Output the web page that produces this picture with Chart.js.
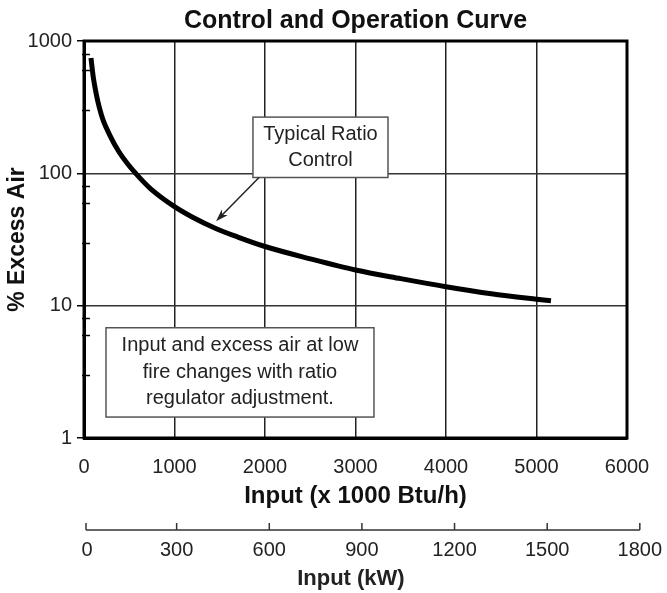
<!DOCTYPE html>
<html lang="en">
<head>
    <meta charset="UTF-8" />
    <title>Control and Operation Curve</title>
    <script src="https://cdn.jsdelivr.net/npm/chart.js"></script>
    <style>
        body { margin: 0; background: #fff; }
        #chart-container { width: 667px; height: 593px; }
    </style>
</head>
<body>
    <div id="chart-container">
        <canvas id="curveChart"></canvas>
    </div>

    <script>
        // curve: input (x 1000 Btu/h) vs % excess air
        const inputBtu = [77, 103, 133, 169, 213, 287, 379, 490, 619, 740, 1000, 1200, 1450, 1700, 2000, 2500, 3000, 3500, 4000, 4500, 5000, 5160];
        const excessAir = [743, 530, 405, 315, 250, 193, 148, 116, 92, 76, 56, 46.6, 38.5, 33, 28, 22.6, 18.6, 16.0, 13.9, 12.3, 11.2, 10.9];

        const yMajorTicks = [1, 10, 100, 1000];
        const kwTicks = [0, 300, 600, 900, 1200, 1500, 1800];
        const btuPerKw = 3.412;

        const FONT = "'Liberation Sans', Arial, Helvetica, sans-serif";
        const TEXT = '#222';

        // notes on the plot, placed in data units
        const notes = {
            ratio: { x0: 1867, x1: 3359, yTop: 266, yBottom: 93, lines: ['Typical Ratio', 'Control'] },
            lowFire: { x0: 243, x1: 3204, yTop: 6.81, yBottom: 1.44, lines: ['Input and excess air at low', 'fire changes with ratio', 'regulator adjustment.'] },
            arrow: { fromX: 1934, fromY: 93, toX: 1459, toY: 43.5 }
        };

        function drawNote(ctx, xs, ys, note) {
            const left = xs.getPixelForValue(note.x0);
            const right = xs.getPixelForValue(note.x1);
            const top = ys.getPixelForValue(note.yTop);
            const bottom = ys.getPixelForValue(note.yBottom);
            ctx.fillStyle = '#fff';
            ctx.fillRect(left, top, right - left, bottom - top);
            ctx.strokeStyle = '#555';
            ctx.lineWidth = 1.5;
            ctx.strokeRect(left, top, right - left, bottom - top);
            ctx.fillStyle = TEXT;
            ctx.font = '20px ' + FONT;
            ctx.textAlign = 'center';
            ctx.textBaseline = 'middle';
            const lh = 26.5;
            const cx = (left + right) / 2;
            const cy = (top + bottom) / 2 - (note.lines.length - 1) * lh / 2;
            note.lines.forEach((t, i) => ctx.fillText(t, cx, cy + i * lh));
        }

        const overlay = {
            id: 'overlay',
            afterDatasetsDraw(chart) {
                const { ctx, scales: { x, y } } = chart;
                ctx.save();
                drawNote(ctx, x, y, notes.ratio);
                drawNote(ctx, x, y, notes.lowFire);

                const a = notes.arrow;
                const x1 = x.getPixelForValue(a.fromX), y1 = y.getPixelForValue(a.fromY);
                const x2 = x.getPixelForValue(a.toX), y2 = y.getPixelForValue(a.toY);
                const ang = Math.atan2(y2 - y1, x2 - x1);
                ctx.strokeStyle = '#222';
                ctx.lineWidth = 1.5;
                ctx.beginPath();
                ctx.moveTo(x1, y1);
                ctx.lineTo(x2 - 8 * Math.cos(ang), y2 - 8 * Math.sin(ang));
                ctx.stroke();
                ctx.fillStyle = '#222';
                ctx.beginPath();
                ctx.moveTo(x2, y2);
                ctx.lineTo(x2 - 13 * Math.cos(ang - 0.32), y2 - 13 * Math.sin(ang - 0.32));
                ctx.lineTo(x2 - 9 * Math.cos(ang), y2 - 9 * Math.sin(ang));
                ctx.lineTo(x2 - 13 * Math.cos(ang + 0.32), y2 - 13 * Math.sin(ang + 0.32));
                ctx.closePath();
                ctx.fill();
                ctx.restore();
            },
            afterDraw(chart) {
                const { ctx, chartArea: ca, scales: { x, y } } = chart;
                ctx.save();

                // heavy frame round the plot
                ctx.strokeStyle = '#000';
                ctx.lineWidth = 3;
                ctx.strokeRect(ca.left, ca.top, ca.right - ca.left, ca.bottom - ca.top);

                // minor log ticks crossing the left axis
                ctx.lineWidth = 1.5;
                ctx.beginPath();
                y.ticks.forEach(t => {
                    if (yMajorTicks.includes(t.value)) return;
                    const py = Math.round(y.getPixelForValue(t.value)) + 0.5;
                    ctx.moveTo(ca.left - 2, py);
                    ctx.lineTo(ca.left + 6, py);
                });
                ctx.stroke();

                // second scale in kW, placed on the Btu/h scale
                const lineY = ca.bottom + 92;
                const kwLeft = x.getPixelForValue(kwTicks[0] * btuPerKw) + 2;
                const kwRight = x.getPixelForValue(kwTicks[kwTicks.length - 1] * btuPerKw);
                ctx.strokeStyle = '#333';
                ctx.lineWidth = 1.5;
                ctx.beginPath();
                ctx.moveTo(kwLeft, lineY);
                ctx.lineTo(kwRight, lineY);
                kwTicks.forEach((k, i) => {
                    const px = i === 0 ? kwLeft : x.getPixelForValue(k * btuPerKw);
                    ctx.moveTo(px, lineY);
                    ctx.lineTo(px, lineY - 7);
                });
                ctx.stroke();

                ctx.fillStyle = TEXT;
                ctx.font = '20px ' + FONT;
                ctx.textAlign = 'center';
                ctx.textBaseline = 'middle';
                kwTicks.forEach((k, i) => {
                    const px = i === 0 ? kwLeft + 1 : x.getPixelForValue(k * btuPerKw);
                    ctx.fillText(String(k), px, lineY + 20);
                });

                ctx.font = 'bold 22px ' + FONT;
                ctx.fillText('Input (kW)', (kwLeft + kwRight) / 2 - 12, lineY + 49);
                ctx.restore();
            }
        };

        new Chart(document.getElementById('curveChart'), {
            type: 'line',
            data: {
                datasets: [{
                    data: inputBtu.map((v, i) => ({ x: v, y: excessAir[i] })),
                    borderColor: '#000',
                    borderWidth: 5,
                    pointRadius: 0,
                    fill: false,
                    cubicInterpolationMode: 'monotone'
                }]
            },
            options: {
                responsive: true,
                maintainAspectRatio: false,
                animation: false,
                layout: { padding: { left: 0, right: 40, top: 0, bottom: 0 } },
                plugins: {
                    legend: { display: false },
                    tooltip: { enabled: false },
                    title: {
                        display: true,
                        text: 'Control and Operation Curve',
                        fullSize: false,
                        color: '#111',
                        font: { family: FONT, size: 25, weight: 'bold', lineHeight: 1.2 },
                        padding: { top: 6, bottom: 5 }
                    }
                },
                scales: {
                    x: {
                        type: 'linear',
                        min: 0,
                        max: 6000,
                        afterFit: s => { s.height = 155; },
                        ticks: {
                            stepSize: 1000,
                            padding: 17,
                            color: TEXT,
                            font: { family: FONT, size: 20 },
                            maxRotation: 0,
                            callback: v => String(v)
                        },
                        grid: { color: '#222', lineWidth: 1.5, drawTicks: false },
                        border: { display: true, color: '#000', width: 3 },
                        title: {
                            display: true,
                            text: 'Input (x 1000 Btu/h)',
                            color: '#111',
                            font: { family: FONT, size: 24, weight: 'bold', lineHeight: 1.2 },
                            padding: { top: 0, bottom: 82 }
                        }
                    },
                    y: {
                        type: 'logarithmic',
                        min: 1,
                        max: 1000,
                        afterFit: s => { s.width = 84; },
                        afterBuildTicks: s => {
                            const vals = [];
                            yMajorTicks.slice(0, -1).forEach(d => {
                                for (let k = 1; k < 10; k++) vals.push(d * k);
                            });
                            vals.push(yMajorTicks[yMajorTicks.length - 1]);
                            s.ticks = vals.map(v => ({ value: v, major: yMajorTicks.includes(v) }));
                        },
                        ticks: {
                            padding: 5,
                            color: TEXT,
                            font: { family: FONT, size: 20 },
                            callback: v => yMajorTicks.includes(v) ? String(v) : ''
                        },
                        grid: {
                            lineWidth: 1.5,
                            tickLength: 7,
                            color: c => yMajorTicks.includes(c.tick && c.tick.value) ? '#333' : 'rgba(0,0,0,0)',
                            tickColor: c => yMajorTicks.includes(c.tick && c.tick.value) ? '#000' : 'rgba(0,0,0,0)'
                        },
                        border: { display: true, color: '#000', width: 3 },
                        title: {
                            display: true,
                            text: '% Excess Air',
                            color: '#111',
                            font: { family: FONT, size: 23, weight: 'bold', lineHeight: 1.2 },
                            padding: { top: 4, bottom: 0 }
                        }
                    }
                }
            },
            plugins: [overlay]
        });
    </script>
</body>
</html>
